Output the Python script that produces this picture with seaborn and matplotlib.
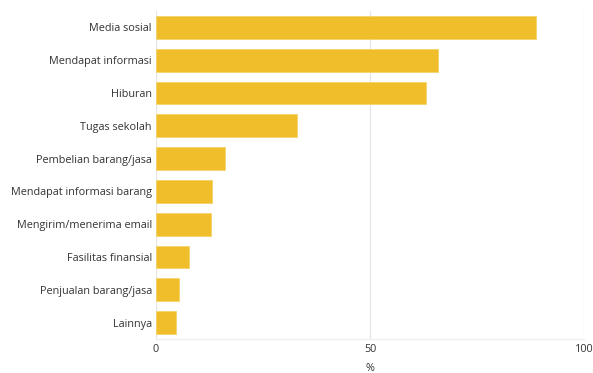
import matplotlib
matplotlib.use("Agg")
import matplotlib.pyplot as plt
import seaborn as sns
import pandas as pd

categories = ["Media sosial", "Mendapat informasi", "Hiburan", "Tugas sekolah",
              "Pembelian barang/jasa", "Mendapat informasi barang",
              "Mengirim/menerima email", "Fasilitas finansial",
              "Penjualan barang/jasa", "Lainnya"]
values = [88.9, 66.0, 63.0, 32.9, 16.2, 13.1, 12.9, 7.7, 5.3, 4.7]
xticks = [0, 50, 100]

sns.set_theme(style="white")
plt.rcParams['font.family'] = ['Open Sans', 'DejaVu Sans']

df = pd.DataFrame({"cat": categories, "val": values})

fig = plt.figure(figsize=(5.93, 3.73), dpi=100)
ax = fig.add_axes([156/593, 1 - 339/373, (584 - 156)/593, (339 - 11)/373])
sns.barplot(data=df, x="val", y="cat", color="#F0BE2A", saturation=1,
            width=0.7, edgecolor="#F5D468", linewidth=0.6, ax=ax, zorder=3)
ax.set_xlim(0, 100)
ax.set_xticks(xticks)
ax.set_xticklabels([str(t) for t in xticks])
ax.grid(axis="x", color="#e6e6e6", linewidth=0.9, zorder=0)
ax.set_axisbelow(True)
for s in ["top", "right", "left"]:
    ax.spines[s].set_visible(False)
ax.spines["bottom"].set_color("#eeeeee")
ax.spines["bottom"].set_linewidth(0.9)
ax.tick_params(axis="both", length=0, labelsize=7.8, colors="#333333")
ax.tick_params(axis="y", pad=3)
ax.tick_params(axis="x", pad=3.5)
ax.set_ylabel("")
ax.set_xlabel("%", fontsize=7.8, color="#333333", labelpad=6)
fig.savefig("out.png", dpi=100)
